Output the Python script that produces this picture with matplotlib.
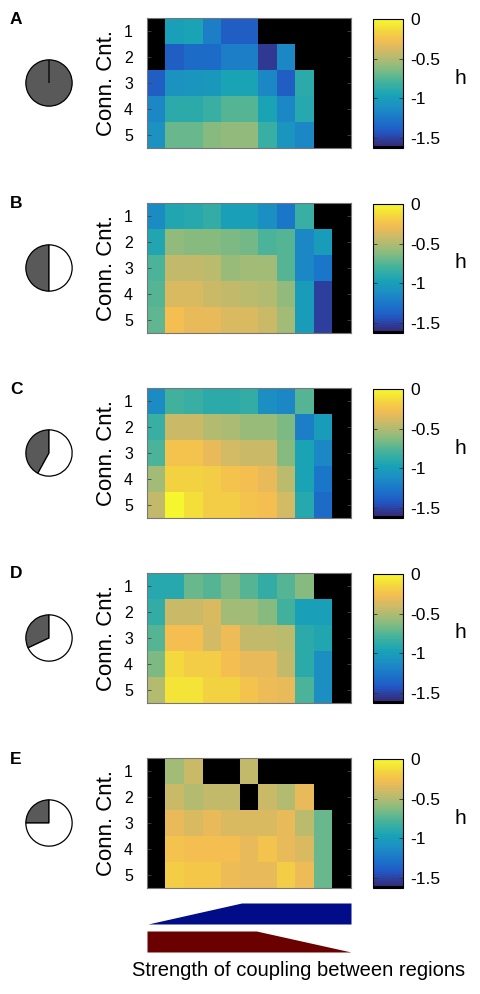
"""
Heatmaps of h over connection count and coupling strength, five panels (A-E),
each with a pie showing the fraction of regions and a parula-like colorbar.
"""

import numpy as np
import matplotlib
matplotlib.use("Agg")
import matplotlib.pyplot as plt
from matplotlib.colors import LinearSegmentedColormap, ListedColormap

plt.rcParams['font.family'] = ['Liberation Sans', 'DejaVu Sans']

nan = np.nan

# ---- data -------------------------------------------------------------
panel_letters = ["A", "B", "C", "D", "E"]
pie_fractions = [1.0, 0.5, 0.42, 0.32, 0.25]
row_labels = ["1", "2", "3", "4", "5"]
cbar_ticks = [0, -0.5, -1, -1.5]
h_min, h_max = -1.63, 0.0

h_A = [[nan, -0.98, -0.95, -1.22, -1.40, -1.38, nan, nan, nan, nan, nan],
       [nan, -1.38, -1.32, -1.30, -1.20, -1.20, -1.55, -1.15, nan, nan, nan],
       [-1.40, -1.08, -1.06, -1.02, -0.95, -0.95, -1.15, -1.38, -0.88, nan, nan],
       [-1.17, -0.88, -0.87, -0.82, -0.75, -0.75, -0.95, -1.17, -0.90, nan, nan],
       [-1.08, -0.70, -0.70, -0.62, -0.60, -0.60, -0.82, -1.05, -1.17, nan, nan]]

h_B = [[-1.14, -0.93, -0.90, -0.85, -0.98, -0.97, -1.10, -1.25, -0.82, nan, nan],
       [-0.92, -0.60, -0.62, -0.63, -0.65, -0.68, -0.78, -0.75, -1.17, -1.00, nan],
       [-0.78, -0.45, -0.45, -0.47, -0.57, -0.56, -0.56, -0.75, -1.17, -1.25, nan],
       [-0.75, -0.37, -0.37, -0.42, -0.45, -0.48, -0.50, -0.60, -1.00, -1.52, nan],
       [-0.72, -0.28, -0.32, -0.33, -0.37, -0.37, -0.42, -0.55, -1.00, -1.52, nan]]

h_C = [[-1.14, -0.80, -0.82, -0.87, -0.87, -0.85, -1.10, -1.15, -0.75, nan, nan],
       [-0.82, -0.42, -0.42, -0.50, -0.53, -0.57, -0.57, -0.65, -1.20, -1.00, nan],
       [-0.78, -0.25, -0.25, -0.33, -0.40, -0.43, -0.43, -0.62, -0.95, -1.15, nan],
       [-0.55, -0.16, -0.17, -0.20, -0.23, -0.28, -0.33, -0.47, -0.95, -1.25, nan],
       [-0.45, -0.02, -0.12, -0.18, -0.20, -0.23, -0.28, -0.40, -0.90, -1.30, nan]]

h_D = [[-0.90, -0.90, -0.70, -0.74, -0.65, -0.74, -0.85, -0.75, -0.62, nan, nan],
       [-0.85, -0.43, -0.43, -0.37, -0.55, -0.55, -0.62, -0.80, -0.98, -0.98, nan],
       [-0.75, -0.28, -0.28, -0.40, -0.30, -0.45, -0.45, -0.47, -0.87, -0.92, nan],
       [-0.65, -0.15, -0.18, -0.20, -0.28, -0.32, -0.33, -0.45, -0.87, -1.12, nan],
       [-0.50, -0.10, -0.10, -0.17, -0.17, -0.23, -0.30, -0.33, -0.78, -1.12, nan]]

h_E = [[nan, -0.55, -0.42, nan, nan, -0.45, nan, nan, nan, nan, nan],
       [nan, -0.42, -0.50, -0.45, -0.45, nan, -0.42, -0.50, -0.33, nan, nan],
       [nan, -0.33, -0.37, -0.33, -0.37, -0.37, -0.37, -0.33, -0.47, -0.70, nan],
       [nan, -0.25, -0.28, -0.28, -0.28, -0.33, -0.25, -0.32, -0.37, -0.70, nan],
       [nan, -0.18, -0.22, -0.22, -0.30, -0.33, -0.33, -0.20, -0.30, -0.70, nan]]

panels = [h_A, h_B, h_C, h_D, h_E]

# coupling profiles for the two sketch bands under the panels
blue_x = [0.05, 5.1, 11.0]
blue_h = [0.0, 1.0, 1.0]
red_x = [0.0, 5.9, 11.0]
red_h = [1.0, 1.0, 0.0]

# ---- colormap (parula approximation, black as lowest entry) -----------
parula_anchors = [
    (0.208, 0.166, 0.529), (0.105, 0.335, 0.841), (0.055, 0.468, 0.860),
    (0.050, 0.575, 0.823), (0.029, 0.666, 0.758), (0.199, 0.721, 0.631),
    (0.478, 0.749, 0.488), (0.722, 0.741, 0.389), (0.926, 0.726, 0.299),
    (0.994, 0.745, 0.240), (0.982, 0.821, 0.168), (0.976, 0.983, 0.054)]
anchor_pos = [0, .1, .2, .3, .4, .5, .6, .7, .8, .84, .9, 1.0]
parula = LinearSegmentedColormap.from_list(
    "parula", list(zip(anchor_pos, parula_anchors)))


def muted(t, amount=0.15):
    # the printed figure is a little washed out, pull colours toward grey
    r, g, b, _ = parula(t)
    lum = 0.3 * r + 0.59 * g + 0.11 * b
    return tuple((1 - amount) * c + amount * lum for c in (r, g, b))


cmap = ListedColormap([(0, 0, 0)] + [muted(t) for t in np.linspace(0, 1, 63)])
cmap.set_bad("black")

# ---- layout (pixels) --------------------------------------------------
W, H = 480, 994
fig = plt.figure(figsize=(W / 100, H / 100), dpi=100)


def px_axes(x0, y0, x1, y1):
    return fig.add_axes([x0 / W, 1 - y1 / H, (x1 - x0) / W, (y1 - y0) / H])


tops = [18, 203, 388, 573, 758]
ph = 130

for letter, frac, data, top in zip(panel_letters, pie_fractions, panels, tops):
    # heatmap
    ax = px_axes(147, top, 351, top + ph)
    im = ax.imshow(np.array(data), cmap=cmap, vmin=h_min, vmax=h_max,
                   aspect="auto", interpolation="nearest",
                   extent=(0.5, 11.5, 5.5, 0.5))
    ax.set_xticks([])
    ax.set_yticks(range(1, 6))
    ax.set_yticklabels(row_labels, fontsize=11.5)
    ax.tick_params(axis="y", direction="in", length=3, width=0.6,
                   right=True, pad=10, color="#444444")
    for sp in ax.spines.values():
        sp.set_color("#777777")
        sp.set_linewidth(0.8)

    fig.text(106 / W, 1 - (top + 65) / H, "Conn. Cnt.", rotation=90,
             ha="center", va="center", fontsize=16)
    fig.text(10 / W, 1 - (top + 1) / H, letter, fontweight="bold",
             ha="left", va="center", fontsize=12.5)

    # colorbar
    cax = px_axes(373, top + 1, 403, top + ph)
    cb = fig.colorbar(im, cax=cax, ticks=cbar_ticks)
    cb.ax.set_yticklabels(["0", "-0.5", "-1", "-1.5"], fontsize=12.5)
    cb.ax.tick_params(direction="in", length=3, width=0.6, pad=5,
                      left=True, color="#333333")
    cb.outline.set_linewidth(0.8)
    fig.text(460 / W, 1 - (top + 60) / H, "h", ha="center", va="center",
             fontsize=15)

    # pie
    pax = px_axes(24, top + 40, 74, top + 90)
    pax.pie([frac, 1 - frac], colors=["#595959", "white"], startangle=90,
            counterclock=True,
            wedgeprops=dict(edgecolor="black", linewidth=0.9))
    pax.set_xlim(-1.08, 1.08)
    pax.set_ylim(-1.08, 1.08)
    pax.set_aspect("equal")

# coupling sketch
sax = px_axes(147, 900, 351, 955)
sax.fill_between(blue_x, 31, 31 + 21 * np.array(blue_h), color="#000c88",
                 linewidth=0)
sax.fill_between(red_x, 3, 3 + 21 * np.array(red_h), color="#6a0000",
                 linewidth=0)
sax.set_xlim(0, 11)
sax.set_ylim(0, 55)
sax.axis("off")

fig.text(299 / W, 1 - 971 / H, "Strength of coupling between regions",
         ha="center", va="center", fontsize=14.5)

fig.savefig("out.png", dpi=100)
